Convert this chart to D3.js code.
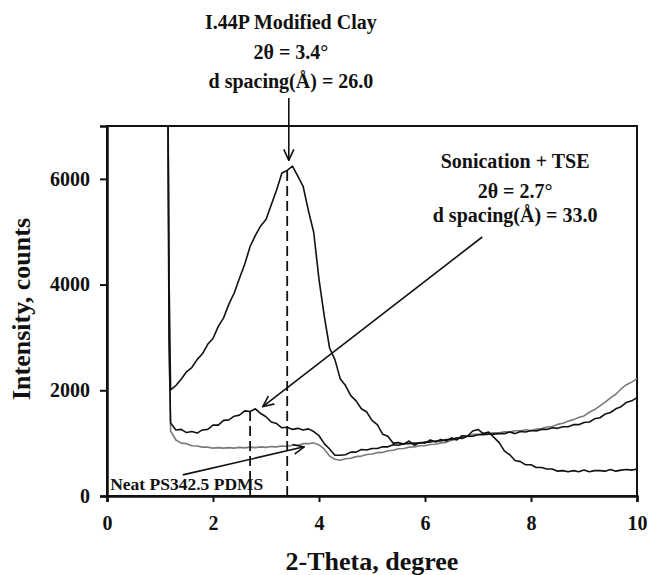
<!DOCTYPE html>
<html><head><meta charset="utf-8">
<script src="https://cdn.jsdelivr.net/npm/d3@7"></script>
<style>
body{margin:0;background:#fff}
text{font-family:"Liberation Serif","Times New Roman",serif;font-weight:bold;fill:#111}
</style>
</head><body>
<svg id="chart" width="648" height="575"></svg>
<script>
// ---- data ----
const twoTheta = [
  1.15,1.17,1.2,1.3,1.4,1.5,1.6,1.7,1.8,1.9,
  2.0,2.1,2.2,2.3,2.4,2.5,2.6,2.7,2.8,2.9,
  3.0,3.1,3.2,3.3,3.4,3.5,3.6,3.7,3.8,3.9,
  4.0,4.1,4.2,4.3,4.4,4.5,4.6,4.7,4.8,4.9,
  5.0,5.1,5.2,5.3,5.4,5.5,5.6,5.7,5.8,5.9,
  6.0,6.1,6.2,6.3,6.4,6.5,6.6,6.7,6.8,6.9,
  7.0,7.1,7.2,7.3,7.4,7.5,7.6,7.7,7.8,7.9,
  8.0,8.1,8.2,8.3,8.4,8.5,8.6,8.7,8.8,8.9,
  9.0,9.1,9.2,9.3,9.4,9.5,9.6,9.7,9.8,9.9,
  10.0];
const modifiedClay = [
  7600,4200,2010,2090,2210,2350,2430,2580,2690,2870,
  2980,3210,3370,3630,3840,4120,4390,4720,4930,5110,
  5230,5510,5790,6110,6160,6240,6050,5860,5400,4990,
  4100,3400,2800,2580,2220,2090,1900,1800,1650,1590,
  1430,1350,1170,1130,1000,1010,980,1040,960,1010,
  1000,1060,1020,1070,1040,1100,1060,1140,1130,1230,
  1260,1180,1210,1110,1010,850,780,670,650,590,
  590,540,540,510,510,470,480,460,480,460,
  490,460,480,480,470,500,470,490,500,490,
  510];
const sonicationTSE = [
  7600,3000,1380,1250,1260,1200,1220,1190,1250,1260,
  1340,1340,1430,1440,1510,1530,1610,1600,1650,1560,
  1500,1400,1370,1290,1300,1260,1280,1250,1270,1220,
  1140,990,890,770,770,780,830,830,880,870,
  900,900,930,930,970,960,990,990,1000,1000,
  1020,1020,1040,1040,1070,1070,1100,1090,1130,1130,
  1160,1160,1170,1170,1180,1180,1210,1180,1220,1210,
  1240,1230,1260,1260,1290,1280,1310,1310,1350,1350,
  1390,1400,1460,1480,1550,1580,1650,1690,1770,1800,
  1860];
const neatPDMS = [
  7600,3000,1230,1060,1000,990,950,945,925,925,
  905,915,905,915,905,920,910,925,915,930,
  920,935,930,945,940,960,960,990,990,1005,
  965,885,755,695,675,705,715,745,755,785,
  795,820,825,855,865,895,900,925,930,950,
  950,975,980,1005,1015,1055,1075,1115,1135,1165,
  1165,1185,1185,1195,1195,1215,1215,1235,1235,1255,
  1235,1265,1275,1305,1315,1355,1375,1415,1445,1485,
  1515,1585,1635,1705,1775,1855,1925,2025,2105,2155,
  2220];
const xTicks = [0,2,4,6,8,10];
const yTicks = [0,2000,4000,6000];
const peakClay = [3.4, 6200];
const peakSonic = [2.7, 1620];
const clayLines = ["I.44P Modified Clay", "2\u03B8 = 3.4\u00B0", "d spacing(\u00C5) = 26.0"];
const sonicLines = ["Sonication + TSE", "2\u03B8 = 2.7\u00B0", "d spacing(\u00C5)  = 33.0"];
const neatLabel = "Neat PS342.5 PDMS";
const arrowClay = [[3.43, 7530], [3.43, 6350]];
const arrowSonic = [[7.08, 4900], [2.94, 1690]];
const arrowNeat = [[1.43, 400], [3.72, 930]];

// ---- layout ----
const L = 107, R = 637, T = 126, B = 496;
const svg = d3.select("#chart");
const x = d3.scaleLinear([0, 10], [L, R]);
const y = d3.scaleLinear([0, 7000], [B, T]);

svg.append("defs").append("clipPath").attr("id", "clip")
  .append("rect").attr("x", L).attr("y", T).attr("width", R - L).attr("height", B - T);

const marker = svg.select("defs").append("marker")
  .attr("id", "arr").attr("viewBox", "0 -6 12 12")
  .attr("refX", 11).attr("refY", 0)
  .attr("markerWidth", 12).attr("markerHeight", 12)
  .attr("markerUnits", "userSpaceOnUse").attr("orient", "auto");
marker.append("path").attr("d", "M0,-5L11,0L0,5").attr("fill", "none")
  .attr("stroke", "#111").attr("stroke-width", 1.6);

// frame
svg.append("rect").attr("x", L).attr("y", T).attr("width", R - L).attr("height", B - T)
  .attr("fill", "none").attr("stroke", "#111").attr("stroke-width", 2);

// series
const line = d3.line().x((d, i) => x(twoTheta[i])).y(d => y(d));
const plot = svg.append("g").attr("clip-path", "url(#clip)");
const series = [
  {v: neatPDMS, c: "#7a7a7a"},
  {v: sonicationTSE, c: "#111"},
  {v: modifiedClay, c: "#111"}
];
plot.selectAll("path.s").data(series).join("path").attr("class", "s")
  .attr("d", d => line(d.v)).attr("fill", "none")
  .attr("stroke", d => d.c).attr("stroke-width", 1.6).attr("stroke-linejoin", "round");

// dashed peak markers
plot.selectAll("line.dash").data([peakClay, peakSonic]).join("line").attr("class", "dash")
  .attr("x1", d => x(d[0])).attr("x2", d => x(d[0]))
  .attr("y1", y(0)).attr("y2", d => y(d[1]))
  .attr("stroke", "#111").attr("stroke-width", 1.8).attr("stroke-dasharray", "10,5");

// axes
const xAxis = svg.append("g").attr("transform", `translate(0,${B})`)
  .call(d3.axisBottom(x).tickValues(xTicks).tickSize(6).tickPadding(14).tickFormat(d3.format("d")));
const yAxis = svg.append("g").attr("transform", `translate(${L},0)`)
  .call(d3.axisLeft(y).tickValues(yTicks).tickSize(7).tickPadding(10).tickFormat(d3.format("d")));
[xAxis, yAxis].forEach(a => {
  a.select(".domain").attr("stroke", "#111").attr("stroke-width", 2.5);
  a.selectAll(".tick line").attr("stroke", "#111").attr("stroke-width", 2);
  a.selectAll(".tick text").attr("font-size", 20).attr("font-family", null).style("fill", "#111");
});

// axis titles
svg.append("text").attr("x", (L + R) / 2).attr("y", 570).attr("text-anchor", "middle")
  .attr("font-size", 26).text("2-Theta, degree");
svg.append("text").attr("transform", `translate(30,${(T + B) / 2 - 2}) rotate(-90)`)
  .attr("text-anchor", "middle").attr("font-size", 26).text("Intensity, counts");

// annotations
svg.append("g").selectAll("text").data(clayLines).join("text")
  .attr("x", x(3.47)).attr("y", (d, i) => [29, 59, 88][i])
  .attr("text-anchor", "middle").attr("font-size", 20).text(d => d);
svg.append("g").selectAll("text").data(sonicLines).join("text")
  .attr("x", x(7.7)).attr("y", (d, i) => [168, 198, 222][i])
  .attr("text-anchor", "middle").attr("font-size", 20).text(d => d);
svg.append("text").attr("x", x(0.06)).attr("y", 490).attr("font-size", 17.5).text(neatLabel);

svg.selectAll("line.arrow").data([arrowClay, arrowSonic, arrowNeat]).join("line").attr("class", "arrow")
  .attr("x1", d => x(d[0][0])).attr("y1", d => y(d[0][1]))
  .attr("x2", d => x(d[1][0])).attr("y2", d => y(d[1][1]))
  .attr("stroke", "#111").attr("stroke-width", 1.6).attr("marker-end", "url(#arr)");
</script>
</body></html>
